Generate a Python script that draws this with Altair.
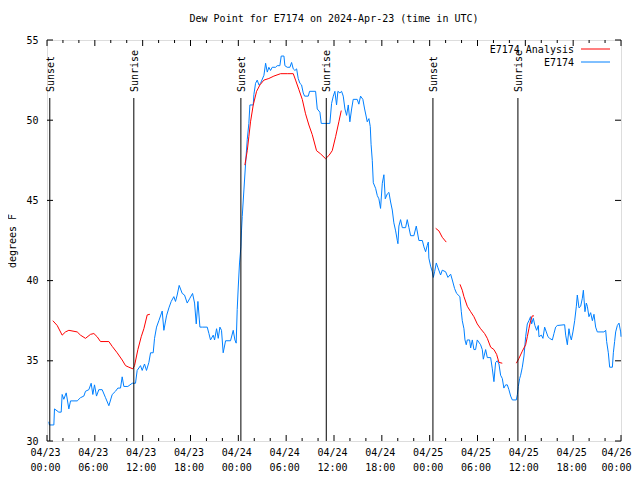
import altair as alt
import pandas as pd

# ---- observed dew point (blue), hours since 04/23 00:00 UTC ----
obs_hours = [0.23, 0.30, 0.86, 0.94, 1.48, 1.78, 1.90, 2.11, 2.41, 2.74, 2.95, 3.79, 4.20, 4.62, 4.83,
             5.25, 5.54, 5.75, 5.96, 6.21, 6.50, 6.92, 7.34, 7.76, 8.18, 8.59, 8.89, 9.22, 9.43, 9.64,
             10.14, 10.69, 11.10, 11.31, 11.73, 11.94, 12.23, 12.48, 12.78, 12.99, 13.32, 13.49, 13.74,
             14.03, 14.45, 14.66, 14.99, 15.29, 15.58, 15.91, 16.12, 16.33, 16.58, 16.96, 17.25, 17.59,
             17.92, 18.26, 18.51, 18.72, 18.93, 19.18, 19.47, 20.10, 20.31, 20.51, 20.85, 21.02, 21.27,
             21.48, 21.69, 21.89, 22.10, 22.40, 23.02, 23.36, 23.57, 23.73, 23.86, 23.99, 24.15, 24.32,
             24.40, 24.49, 24.70, 24.91, 25.12, 25.32, 25.45, 25.87, 25.95, 26.16, 26.37, 26.58, 26.79,
             27.21, 27.42, 27.63, 27.83, 28.04, 28.25, 28.67, 28.88, 29.21, 29.38, 29.72, 29.84, 30.13,
             30.47, 30.68, 30.89, 31.10, 31.31, 31.51, 31.72, 31.93, 32.14, 32.31, 32.77, 32.94, 33.69,
             33.90, 34.23, 34.40, 35.48, 35.70, 35.91, 36.11, 36.32, 36.49, 36.74, 36.95, 37.16, 37.37,
             37.58, 37.79, 37.99, 38.21, 38.41, 38.91, 39.12, 39.33, 39.62, 39.84, 40.05, 40.17, 40.38,
             40.55, 40.65, 40.80, 40.93, 41.22, 41.43, 41.63, 41.84, 42.06, 42.26, 42.43, 42.68, 42.89,
             43.10, 43.31, 43.51, 43.73, 43.94, 44.02, 44.14, 44.35, 44.57, 44.98, 45.19, 45.40, 45.61,
             46.02, 46.32, 46.65, 47.08, 47.28, 47.49, 47.70, 47.83, 47.90, 48.12, 48.33, 48.46, 48.62,
             48.83, 49.04, 49.37, 49.58, 50.00, 50.29, 50.63, 50.84, 51.13, 51.38, 51.79, 51.97, 52.09,
             52.30, 52.43, 52.59, 52.72, 53.01, 53.14, 53.35, 53.55, 53.76, 53.97, 54.39, 54.60, 54.73,
             55.02, 55.23, 55.65, 55.86, 56.06, 56.27, 56.49, 56.69, 56.90, 57.11, 57.31, 57.53, 57.74,
             57.94, 58.16, 58.37, 58.87, 59.00, 59.12, 59.29, 59.41, 59.62, 59.83, 60.04, 60.25, 60.45,
             60.66, 60.79, 61.00, 61.20, 61.42, 61.63, 61.71, 62.01, 62.21, 62.42, 62.63, 62.84, 63.05,
             63.39, 63.59, 63.80, 64.01, 64.93, 65.06, 65.27, 65.47, 65.60, 65.77, 65.97, 66.19, 66.40,
             66.52, 66.73, 66.94, 67.15, 67.28, 67.48, 67.65, 67.78, 67.98, 68.19, 68.41, 68.61, 68.82,
             69.03, 69.86, 70.08, 70.20, 70.41, 70.58, 70.92, 71.04, 71.20, 71.33, 71.54, 71.75, 71.96,
             72.00]
obs_dew = [31.2, 31.0, 31.0, 32.0, 31.8, 31.8, 32.9, 32.6, 33.0, 32.0, 32.5, 32.5, 32.7, 32.8, 33.1,
           33.2, 33.6, 32.9, 33.5, 32.8, 33.2, 33.2, 32.7, 32.2, 32.9, 33.1, 33.3, 33.3, 34.0, 33.4,
           33.4, 33.6, 33.6, 34.4, 34.7, 34.4, 34.8, 34.4, 34.9, 35.5, 35.5, 36.4, 37.1,
           37.5, 38.1, 36.9, 37.8, 38.3, 38.7, 39.0, 38.7, 39.1, 39.7, 39.2, 39.1, 38.6,
           38.9, 39.2, 38.6, 37.3, 38.7, 37.1, 37.1, 37.1, 36.7, 36.3, 36.6, 36.3, 37.0,
           36.4, 37.1, 36.9, 35.5, 36.25, 36.25, 36.9, 36.3, 36.1, 38.2, 39.6, 41.1, 42.1,
           43.15, 44.0, 45.65, 47.3, 48.8, 49.8, 50.95, 50.95, 51.6, 52.3, 52.5, 52.2, 52.3,
           52.8, 53.55, 53.0, 53.3, 53.1, 53.3, 53.3, 53.4, 53.4, 54.0, 54.0, 53.4, 53.3,
           53.3, 53.6, 53.2, 53.1, 53.2, 52.6, 52.3, 52.2, 51.7, 51.5, 51.5, 51.8, 51.8,
           50.7, 50.5, 49.8, 49.8, 51.05, 51.5, 51.8, 50.95, 51.8, 51.7, 51.8, 51.5, 50.7,
           50.3, 50.95, 49.9, 50.7, 51.3, 51.3, 51.0, 51.5, 51.3, 50.7, 50.2, 49.9, 50.1,
           49.6, 48.5, 47.5, 46.1, 45.75, 45.3, 45.1, 44.5, 46.07, 46.6, 45.1, 45.4, 45.5,
           44.9, 44.4, 43.6, 43.1, 42.5, 42.3, 43.4, 43.8, 43.3, 43.3, 43.8, 43.3, 42.8,
           42.8, 43.4, 42.5, 42.5, 42.1, 41.8, 42.2, 42.4, 41.4, 40.9, 40.55, 40.2, 40.55,
           41.1, 40.8, 40.35, 40.65, 40.55, 40.2, 40.4, 40.04, 39.5, 39.2, 39.0, 38.06, 37.5,
           37.0, 36.3, 36.0, 36.3, 36.3, 35.8, 36.3, 35.7, 35.7, 36.3, 36.0, 35.7, 35.1,
           35.7, 35.2, 35.2, 34.5, 33.7, 34.9, 35.0, 34.8, 34.1, 33.9, 33.3, 33.5, 33.5,
           33.2, 32.8, 32.56, 32.56, 32.9, 33.4, 33.9, 34.1, 34.6, 35.3, 36.5, 37.3, 37.5,
           37.75, 37.3, 37.65, 37.2, 36.9, 37.2, 36.5, 36.6, 36.4, 37.1, 36.8, 36.5, 36.4,
           36.3, 36.7, 37.1, 37.2, 37.25, 36.6, 36.0, 37.0, 36.6, 36.3, 36.8, 37.5, 38.4,
           39.1, 38.3, 38.4, 38.9, 39.4, 38.06, 38.6, 38.4, 37.75, 38.0, 37.5, 37.9, 37.1,
           36.8, 36.8, 36.9, 36.2, 35.5, 34.6, 34.6, 35.5, 36.2, 36.8, 37.2, 37.35, 36.8,
           36.5]

# ---- analysis (red), broken into segments ----
ana_hours = [0.73, 1.28, 1.90, 2.32, 2.74, 3.79, 4.20, 4.83, 5.46, 5.88, 6.29, 6.71, 7.76, 8.18, 8.80,
             9.43, 9.85, 10.27, 10.77, 10.98, 11.40, 11.82, 12.15, 12.57, 12.90,
             24.82, 25.12, 25.32, 25.53, 25.87, 26.29, 26.71, 27.21, 27.83, 28.46, 29.30, 30.13, 30.89,
             31.18, 31.60, 32.02, 32.43, 32.85, 33.27, 33.81, 34.32, 34.94, 35.36, 35.78, 36.20, 36.61,
             36.91,
             48.75, 49.16, 49.58, 50.08,
             51.80, 52.09, 52.30, 52.72, 53.14, 53.55, 53.97, 54.39, 54.89, 55.23, 55.65, 56.06, 56.40,
             56.69, 57.11,
             58.87, 59.20, 59.62, 60.04, 60.25, 60.45, 60.66, 60.87, 61.08]
ana_dew = [37.5, 37.2, 36.6, 36.8, 36.9, 36.8, 36.6, 36.4, 36.65, 36.7, 36.5, 36.2, 36.2, 35.9, 35.5,
           35.05, 34.7, 34.6, 34.5, 34.7, 35.7, 36.5, 37.0, 37.86, 37.9,
           47.2, 48.1, 48.97, 49.9, 50.95, 51.8, 52.2, 52.5, 52.6, 52.75, 52.9, 52.9, 52.9,
           52.5, 51.9, 51.3, 50.4, 49.7, 49.1, 48.1, 47.9, 47.6, 47.8, 48.1, 48.97, 49.9,
           50.6,
           43.26, 43.1, 42.7, 42.4,
           39.77, 39.4, 39.0, 38.4, 38.06, 37.75, 37.3, 37.0, 36.7, 36.4, 35.85, 35.7, 35.4,
           34.9, 34.85,
           34.85, 35.15, 35.6, 36.0, 36.5, 37.0, 37.5, 37.8, 37.8]
ana_seg = [1] * 25 + [2] * 27 + [3] * 4 + [4] * 15 + [5] * 9

# ---- sunrise / sunset markers ----
event_hours = [0.35, 10.89, 24.32, 35.03, 48.41, 59.07]
event_names = ["Sunset", "Sunrise", "Sunset", "Sunrise", "Sunset", "Sunrise"]

# ---- axes ----
x_tick_hours = [0, 6, 12, 18, 24, 30, 36, 42, 48, 54, 60, 66, 72]
x_tick_labels = ["04/23 00:00", "04/23 06:00", "04/23 12:00", "04/23 18:00", "04/24 00:00",
                 "04/24 06:00", "04/24 12:00", "04/24 18:00", "04/25 00:00", "04/25 06:00",
                 "04/25 12:00", "04/25 18:00", "04/26 00:00"]
x_minor_hours = [h for h in range(0, 73, 2) if h % 6 != 0]
y_ticks = [30, 35, 40, 45, 50, 55]

series_names = ["E7174 Analysis", "E7174"]
series_colors = ["#ff0000", "#0080ff"]

W, H = 574, 401
FONT = "DejaVu Sans Mono"

obs_df = pd.DataFrame({"hours": obs_hours, "dew": obs_dew})
ana_df = pd.DataFrame({"hours": ana_hours, "dew": ana_dew, "seg": ana_seg})
ev_df = pd.DataFrame({"hours": event_hours, "name": event_names})
maj_df = pd.DataFrame({"hours": x_tick_hours})
min_df = pd.DataFrame({"hours": x_minor_hours})
yt_df = pd.DataFrame({"dew": y_ticks})

label_js = "{" + ",".join(f"'{h}': ['{l.split()[0]}', '{l.split()[1]}']"
                          for h, l in zip(x_tick_hours, x_tick_labels)) + "}"

xscale = alt.Scale(domain=[0, 72], nice=False, zero=False)
yscale = alt.Scale(domain=[30, 55], nice=False, zero=False)

x_axis = alt.Axis(
    values=x_tick_hours, labelExpr=f"{label_js}[''+datum.value]", ticks=False, domain=False,
    grid=False, title=None, labelFont=FONT, labelFontSize=10, labelColor="black",
    labelPadding=6, labelLineHeight=15,
    labelOffset={"condition": {"test": f"datum.value == {x_tick_hours[-1]}", "value": -5}, "value": -2},
    labelFlush=False, labelOverlap=False)
y_axis = alt.Axis(
    values=y_ticks, ticks=False, domain=False, grid=False, title="degrees F",
    titleFont=FONT, titleFontSize=10, titleFontWeight="normal", titleColor="black",
    titlePadding=8, labelFont=FONT, labelFontSize=10, labelColor="black", labelPadding=9)

xq = alt.X("hours:Q", scale=xscale, axis=x_axis)
yq = alt.Y("dew:Q", scale=yscale, axis=y_axis)

obs_line = alt.Chart(obs_df).mark_line(color=series_colors[1], strokeWidth=1).encode(x=xq, y=yq)
ana_line = alt.Chart(ana_df).mark_line(color=series_colors[0], strokeWidth=1).encode(
    x=xq, y=yq, detail="seg:N")

ev_rule = alt.Chart(ev_df).mark_rule(color="black", strokeWidth=1).encode(
    x=xq, y=alt.value(58), y2=alt.value(H))
ev_text = alt.Chart(ev_df).mark_text(angle=270, align="left", baseline="middle", font=FONT,
                                     fontSize=10, color="black", dy=1).encode(
    x=xq, y=alt.value(52), text="name:N")

tick_style = dict(color="black", strokeWidth=1)
xmaj_b = alt.Chart(maj_df).mark_rule(**tick_style).encode(x=xq, y=alt.value(H - 6), y2=alt.value(H))
xmaj_t = alt.Chart(maj_df).mark_rule(**tick_style).encode(x=xq, y=alt.value(0), y2=alt.value(6))
xmin_b = alt.Chart(min_df).mark_rule(**tick_style).encode(x=xq, y=alt.value(H - 3), y2=alt.value(H))
xmin_t = alt.Chart(min_df).mark_rule(**tick_style).encode(x=xq, y=alt.value(0), y2=alt.value(3))
yt_l = alt.Chart(yt_df).mark_rule(**tick_style).encode(y=yq, x=alt.value(0), x2=alt.value(6))
yt_r = alt.Chart(yt_df).mark_rule(**tick_style).encode(y=yq, x=alt.value(W - 6), x2=alt.value(W))

# legend (gnuplot style: label then line sample, top right inside the frame)
legend_layers = []
for i, (name, col) in enumerate(zip(series_names, series_colors)):
    row_df = pd.DataFrame({"name": [name]})
    legend_layers.append(alt.Chart(row_df).mark_text(
        align="right", baseline="middle", font=FONT, fontSize=10, color="black").encode(
        x=alt.value(527), y=alt.value(10 + 13 * i), text="name:N"))
    legend_layers.append(alt.Chart(row_df).mark_rule(color=col, strokeWidth=1).encode(
        x=alt.value(534), x2=alt.value(563), y=alt.value(9 + 13 * i)))

chart = alt.layer(
    obs_line, ana_line, ev_rule, ev_text, xmaj_b, xmaj_t, xmin_b, xmin_t, yt_l, yt_r, *legend_layers
).properties(
    width=W, height=H,
    title=alt.TitleParams("Dew Point for E7174 on 2024-Apr-23 (time in UTC)", font=FONT, fontSize=10,
                          fontWeight="normal", color="black", anchor="middle", offset=11),
    padding={"left": 39, "top": 32, "right": 11, "bottom": 31},
    autosize=alt.AutoSizeParams(type="none"),
).configure_view(stroke="black", strokeWidth=1).configure(background="white")

chart.save("out.html", embed_options={"renderer": "svg", "actions": False})
